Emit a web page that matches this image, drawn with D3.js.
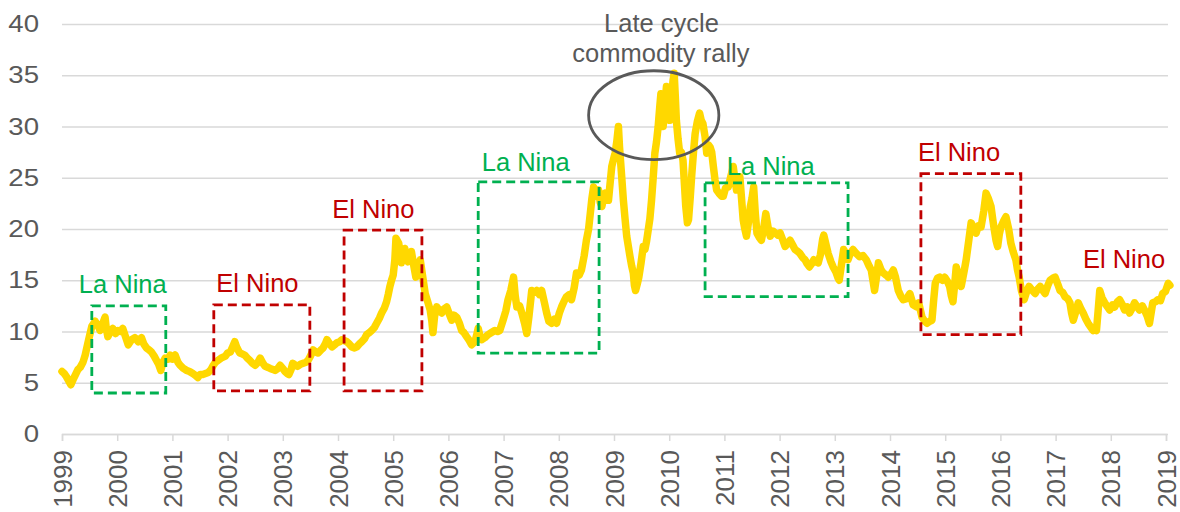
<!DOCTYPE html>
<html>
<head>
<meta charset="utf-8">
<script src="https://cdn.jsdelivr.net/npm/d3@7.9.0/dist/d3.min.js"></script>
<style>
  body { margin: 0; background: #fff; }
  svg { display: block; font-family: "Liberation Sans", Arial, sans-serif; }
  .grid line { stroke: #d9d9d9; stroke-width: 1.3; }
  .axis text { fill: #595959; }
</style>
</head>
<body>
<svg width="1180" height="512"></svg>
<script>
// decimal year of each reading
const times = [
  1999.00,1999.04,1999.08,1999.12,1999.16,1999.20,1999.24,1999.29,1999.33,1999.38,1999.42,1999.47,1999.50,1999.54,1999.60,1999.65,1999.69,1999.74,1999.78,1999.80,1999.83,1999.88,1999.92,1999.97,
  2000.01,2000.06,2000.10,2000.15,2000.20,2000.26,2000.32,2000.38,2000.44,2000.48,2000.53,2000.58,2000.62,2000.67,2000.71,2000.75,2000.79,2000.83,2000.87,2000.92,2000.96,
  2001.00,2001.05,2001.10,2001.14,2001.20,2001.26,2001.31,2001.37,2001.42,2001.46,2001.50,2001.55,2001.60,2001.65,2001.70,2001.74,2001.78,2001.83,2001.88,2001.92,2001.96,
  2002.00,2002.05,2002.09,2002.13,2002.17,2002.22,2002.27,2002.31,2002.36,2002.40,2002.45,2002.50,2002.55,2002.59,2002.64,2002.68,2002.73,2002.77,2002.82,2002.86,2002.91,2002.95,
  2003.00,2003.04,2003.08,2003.11,2003.15,2003.18,2003.23,2003.27,2003.32,2003.37,2003.42,2003.46,2003.50,2003.55,2003.60,2003.64,2003.69,2003.73,2003.77,2003.80,2003.85,2003.89,2003.94,2003.98,
  2004.03,2004.07,2004.12,2004.16,2004.20,2004.25,2004.30,2004.34,2004.39,2004.43,2004.48,2004.52,2004.57,2004.61,2004.66,2004.70,2004.75,2004.79,2004.84,2004.88,2004.91,2004.94,2004.97,
  2005.00,2005.03,2005.05,2005.08,2005.10,2005.13,2005.15,2005.18,2005.21,2005.24,2005.27,2005.30,2005.33,2005.37,2005.41,2005.45,2005.49,2005.53,2005.58,2005.62,2005.67,2005.70,2005.72,2005.75,2005.79,2005.83,2005.88,2005.92,2005.97,
  2006.01,2006.06,2006.10,2006.15,2006.20,2006.24,2006.28,2006.33,2006.37,2006.42,2006.48,2006.51,2006.54,2006.57,2006.60,2006.66,2006.72,2006.78,2006.84,2006.89,2006.93,2006.99,
  2007.04,2007.08,2007.13,2007.18,2007.21,2007.24,2007.29,2007.33,2007.38,2007.42,2007.46,2007.51,2007.55,2007.60,2007.65,2007.69,2007.74,2007.78,2007.82,2007.87,2007.92,2007.96,
  2008.01,2008.05,2008.10,2008.14,2008.19,2008.23,2008.28,2008.32,2008.37,2008.41,2008.46,2008.50,2008.54,2008.57,2008.60,2008.63,2008.67,2008.70,2008.72,2008.75,2008.78,2008.81,2008.84,2008.87,2008.90,2008.93,2008.96,
  2009.00,2009.02,2009.05,2009.08,2009.10,2009.13,2009.17,2009.20,2009.23,2009.26,2009.29,2009.32,2009.35,2009.37,2009.39,2009.42,2009.45,2009.49,2009.53,2009.56,2009.59,2009.62,2009.65,2009.68,2009.71,2009.74,2009.77,2009.80,2009.83,2009.85,2009.87,2009.89,2009.92,2009.95,2009.98,
  2010.01,2010.04,2010.07,2010.09,2010.11,2010.13,2010.16,2010.19,2010.22,2010.25,2010.28,2010.30,2010.33,2010.35,2010.38,2010.41,2010.44,2010.47,2010.51,2010.55,2010.58,2010.61,2010.65,2010.68,2010.71,2010.74,2010.77,2010.80,2010.83,2010.86,2010.90,2010.95,2010.98,
  2011.02,2011.07,2011.11,2011.16,2011.19,2011.22,2011.25,2011.28,2011.31,2011.34,2011.37,2011.40,2011.44,2011.47,2011.50,2011.53,2011.56,2011.59,2011.63,2011.67,2011.71,2011.75,2011.79,2011.83,2011.88,2011.92,2011.97,
  2012.01,2012.06,2012.10,2012.15,2012.19,2012.24,2012.28,2012.33,2012.37,2012.42,2012.46,2012.50,2012.54,2012.58,2012.62,2012.66,2012.70,2012.74,2012.78,2012.80,2012.84,2012.88,2012.93,2012.97,
  2013.02,2013.06,2013.08,2013.12,2013.16,2013.20,2013.24,2013.28,2013.33,2013.39,2013.45,2013.51,2013.57,2013.62,2013.66,2013.69,2013.72,2013.76,2013.79,2013.84,2013.88,2013.93,2013.97,
  2014.02,2014.06,2014.10,2014.15,2014.20,2014.24,2014.30,2014.36,2014.42,2014.48,2014.52,2014.58,2014.63,2014.67,2014.72,2014.76,2014.79,2014.82,2014.86,2014.90,2014.95,2014.99,
  2015.04,2015.08,2015.11,2015.14,2015.17,2015.20,2015.25,2015.29,2015.34,2015.38,2015.43,2015.47,2015.52,2015.56,2015.60,2015.65,2015.70,2015.74,2015.78,2015.83,2015.86,2015.89,2015.92,2015.95,2015.98,
  2016.01,2016.06,2016.10,2016.15,2016.19,2016.23,2016.28,2016.31,2016.34,2016.38,2016.43,2016.47,2016.52,2016.58,2016.63,2016.67,2016.72,2016.77,2016.81,2016.86,2016.90,2016.95,2016.99,
  2017.04,2017.08,2017.13,2017.17,2017.22,2017.26,2017.29,2017.32,2017.37,2017.41,2017.46,2017.50,2017.55,2017.59,2017.64,2017.68,2017.71,2017.74,2017.77,2017.80,2017.84,2017.89,2017.94,2017.98,
  2018.03,2018.07,2018.12,2018.16,2018.21,2018.25,2018.30,2018.34,2018.39,2018.43,2018.48,2018.52,2018.57,2018.61,2018.66,2018.70,2018.73,2018.76,2018.81,2018.85,2018.90,2018.94,2018.99,
  2019.04,2019.07
];

const values = [
  6.1,5.9,5.6,5.2,4.8,5.3,5.75,6.3,6.5,7.0,7.7,8.9,9.6,10.5,11.0,10.6,10.1,10.8,11.4,10.4,9.5,10.0,10.3,9.8,
  10.1,10.0,10.3,9.5,8.7,9.2,9.4,9.0,9.4,8.8,8.4,8.2,8.0,7.6,7.2,6.8,6.2,7.0,7.4,7.3,7.7,
  7.3,7.7,7.0,6.7,6.4,6.2,6.1,5.9,5.7,5.5,5.8,5.8,5.9,6.0,6.3,6.7,7.0,7.2,7.4,7.5,7.6,
  7.9,8.0,8.5,9.0,8.4,7.9,7.8,7.7,7.4,7.2,6.9,6.7,7.0,7.4,6.9,6.6,6.5,6.4,6.3,6.2,6.4,6.7,
  6.4,6.1,5.9,5.8,6.3,6.9,6.7,6.6,6.8,6.9,7.0,7.2,7.6,8.2,8.0,7.9,8.2,8.4,8.8,9.2,8.8,8.5,8.7,8.9,
  9.0,9.2,9.1,9.0,8.8,8.5,8.4,8.5,8.8,9.0,9.3,9.7,9.9,10.1,10.4,10.8,11.3,11.8,12.3,12.9,13.6,14.4,15.0,
  15.5,17.0,19.1,18.8,18.6,17.5,16.7,17.5,18.1,17.3,16.8,17.4,17.8,16.5,15.3,16.2,17.0,15.5,13.7,13.0,12.1,11.0,9.9,11.5,12.4,12.1,11.8,12.2,12.4,
  11.8,11.1,11.6,11.4,10.8,10.1,9.9,9.5,9.2,8.7,9.0,9.6,10.3,9.6,9.2,9.4,9.7,9.9,10.1,10.0,10.1,11.1,
  12.0,13.1,14.0,15.3,13.5,12.4,12.5,11.8,10.8,9.8,11.5,14.0,13.8,14.0,13.6,14.0,12.8,11.8,11.0,10.8,11.2,10.8,
  11.8,12.4,13.0,13.4,13.6,13.1,14.3,15.7,15.5,16.0,17.4,18.9,20.0,21.5,23.0,24.1,23.2,23.8,23.8,22.6,22.2,23.0,23.5,22.8,22.8,24.5,26.1,
  27.0,27.4,28.5,30.0,28.0,25.8,22.8,21.0,19.3,18.3,17.3,16.4,15.7,14.5,14.0,14.6,15.3,16.7,18.3,18.0,18.8,19.9,21.0,22.8,25.0,27.4,28.5,30.0,32.0,33.2,31.5,30.0,31.8,33.9,32.0,
  30.6,32.5,34.5,35.2,33.0,30.6,28.8,27.4,27.5,26.7,24.0,22.2,20.6,20.9,23.0,25.4,27.5,29.3,30.5,31.3,30.6,30.3,29.0,27.4,28.2,28.0,27.5,26.1,24.8,23.8,23.5,23.2,23.2,
  24.0,24.1,25.0,26.1,24.8,23.8,24.5,25.1,23.0,20.9,20.0,19.3,20.8,22.2,23.0,24.1,21.5,19.6,19.2,18.9,20.0,21.5,20.2,19.3,19.8,19.6,19.4,
  19.6,18.9,18.3,18.6,18.9,18.4,18.0,17.8,17.6,17.2,17.0,16.6,16.3,16.6,17.0,16.8,16.7,17.5,19.0,19.4,18.5,17.6,16.8,16.3,
  15.8,15.2,15.0,16.5,18.0,17.6,17.0,17.6,18.0,17.6,17.3,17.4,17.0,16.4,16.0,15.0,14.0,15.5,16.7,16.0,15.7,15.5,15.3,
  15.6,16.0,15.3,14.0,13.4,13.1,13.2,13.7,12.6,12.4,12.8,11.4,11.0,10.8,11.0,11.1,13.0,14.7,15.2,15.3,15.0,15.3,
  14.9,14.4,13.5,12.9,14.5,16.3,15.2,14.4,15.8,17.0,19.0,20.6,20.0,19.6,20.3,20.2,21.8,23.5,23.0,22.2,21.0,19.9,18.9,18.3,19.5,
  20.2,20.8,21.2,20.0,18.6,17.8,17.0,16.0,15.3,14.0,13.1,13.8,14.4,14.0,13.7,14.1,14.4,14.0,13.7,14.5,15.0,15.2,15.3,
  14.6,14.0,13.8,13.4,13.2,12.8,11.8,11.1,12.0,12.8,12.2,11.8,11.2,10.8,10.4,10.1,10.3,10.1,12.0,14.0,13.3,12.8,12.4,12.1,
  12.6,12.4,12.9,13.1,12.6,12.1,12.4,11.8,12.3,12.8,12.4,12.1,12.5,12.1,11.5,10.8,11.8,12.8,12.9,13.1,13.0,13.7,13.9,
  14.7,14.5
];

const years = d3.range(1999, 2020);
const yTicks = [0, 5, 10, 15, 20, 25, 30, 35, 40];

// ENSO phases: box extent in data units, label anchor
const boxes = [
  { label: 'La Nina', color: '#00b050', x0: 1999.54, x1: 2000.88, y0: 4.0, y1: 12.5, lx: 2000.10, ly: 13.75 },
  { label: 'El Nino', color: '#c00000', x0: 2001.75, x1: 2003.49, y0: 4.2, y1: 12.6, lx: 2002.54, ly: 13.85 },
  { label: 'El Nino', color: '#c00000', x0: 2004.11, x1: 2005.52, y0: 4.2, y1: 19.9, lx: 2004.64, ly: 21.05 },
  { label: 'La Nina', color: '#00b050', x0: 2006.54, x1: 2008.73, y0: 7.9, y1: 24.6, lx: 2007.40, ly: 25.7 },
  { label: 'La Nina', color: '#00b050', x0: 2010.65, x1: 2013.24, y0: 13.4, y1: 24.5, lx: 2011.84, ly: 25.3 },
  { label: 'El Nino', color: '#c00000', x0: 2014.56, x1: 2016.37, y0: 9.7, y1: 25.4, lx: 2015.25, ly: 26.6 }
];
const freeLabels = [
  { text: 'El Nino', color: '#c00000', x: 2018.24, y: 16.2 },
  { text: 'Late cycle', color: '#595959', x: 2009.86, y: 39.25 },
  { text: 'commodity rally', color: '#595959', x: 2009.85, y: 36.3 }
];
const rally = { x: 2009.72, y: 31.1, rx: 1.18, ry: 4.34 };

const svg = d3.select('svg');
const x = d3.scaleLinear().domain([1999, 2019]).range([62, 1166]);
const y = d3.scaleLinear().domain([0, 40]).range([434, 24]);

// horizontal gridlines
svg.append('g')
  .attr('class', 'grid')
  .attr('transform', 'translate(62,0)')
  .call(d3.axisLeft(y).tickValues(yTicks).tickSize(-1106).tickFormat(''))
  .call(g => g.select('.domain').remove());

// y labels (slightly stretched, like the source)
svg.append('g')
  .attr('class', 'axis')
  .selectAll('text')
  .data(yTicks)
  .join('text')
  .attr('transform', d => `translate(39,${y(d)}) scale(1.2,1)`)
  .attr('dy', '0.35em')
  .attr('text-anchor', 'end')
  .attr('font-size', 23)
  .text(d => d);

// x axis
const xAxis = svg.append('g')
  .attr('class', 'axis')
  .attr('transform', 'translate(0,434)')
  .call(d3.axisBottom(x).tickValues(years).tickSize(7).tickFormat(d3.format('d')));
xAxis.select('.domain').attr('stroke', '#d9d9d9').attr('stroke-width', 1.5);
xAxis.selectAll('.tick line').attr('stroke', '#d9d9d9').attr('stroke-width', 1.5);
xAxis.selectAll('.tick text')
  .attr('transform', 'rotate(-90)')
  .attr('x', -16)
  .attr('y', 0)
  .attr('dy', '0.35em')
  .attr('text-anchor', 'end')
  .attr('font-size', 26);

// price line
const line = d3.line()
  .x(d => x(d[0]))
  .y(d => y(d[1]));

svg.append('path')
  .datum(d3.zip(times, values))
  .attr('d', line)
  .attr('fill', 'none')
  .attr('stroke', '#ffd800')
  .attr('stroke-width', 7.5)
  .attr('stroke-linejoin', 'round')
  .attr('stroke-linecap', 'round');

// dashed boxes
svg.append('g')
  .selectAll('rect')
  .data(boxes)
  .join('rect')
  .attr('x', d => x(d.x0))
  .attr('y', d => y(d.y1))
  .attr('width', d => x(d.x1) - x(d.x0))
  .attr('height', d => y(d.y0) - y(d.y1))
  .attr('fill', 'none')
  .attr('stroke', d => d.color)
  .attr('stroke-width', 2.8)
  .attr('stroke-dasharray', '9,5');

svg.append('ellipse')
  .attr('cx', x(rally.x))
  .attr('cy', y(rally.y))
  .attr('rx', x(rally.x + rally.rx) - x(rally.x))
  .attr('ry', y(rally.y - rally.ry) - y(rally.y))
  .attr('fill', 'none')
  .attr('stroke', '#595959')
  .attr('stroke-width', 2.8);

const labels = boxes.map(d => ({ text: d.label, color: d.color, x: d.lx, y: d.ly })).concat(freeLabels);
svg.append('g')
  .selectAll('text')
  .data(labels)
  .join('text')
  .attr('x', d => x(d.x))
  .attr('y', d => y(d.y))
  .attr('text-anchor', 'middle')
  .attr('font-size', 25.5)
  .attr('fill', d => d.color)
  .text(d => d.text);
</script>
</body>
</html>
